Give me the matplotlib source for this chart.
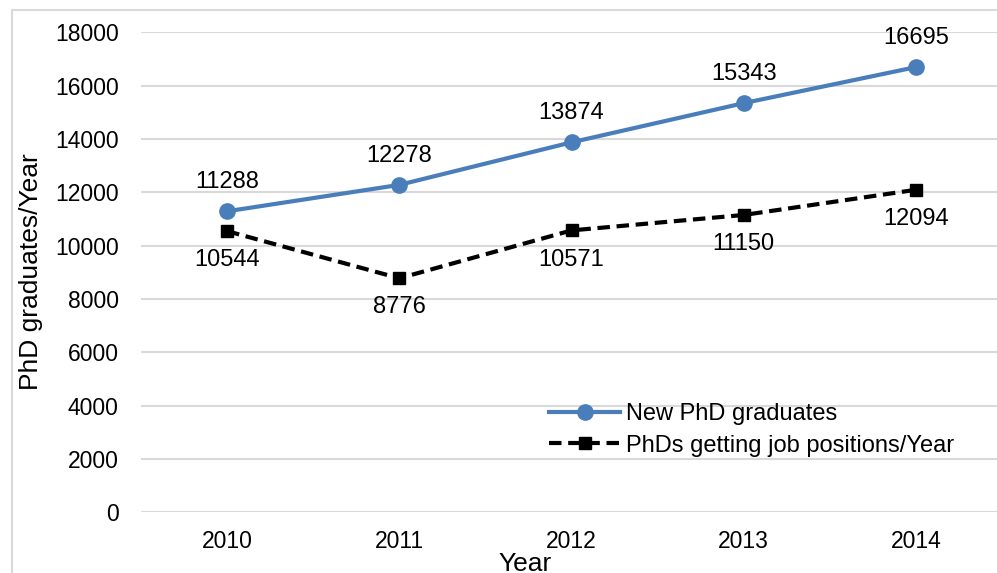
import matplotlib
matplotlib.use('Agg')
import matplotlib.pyplot as plt
from matplotlib.patches import Rectangle

years = ['2010', '2011', '2012', '2013', '2014']
new_phd = [11288, 12278, 13874, 15343, 16695]
phd_jobs = [10544, 8776, 10571, 11150, 12094]

plt.rcParams['font.family'] = ['Liberation Sans', 'DejaVu Sans']

fig = plt.figure(figsize=(9.97, 5.73), dpi=100)
ax = fig.add_axes([141 / 997, 60.7 / 573, 861 / 997, 480 / 573])

x = list(range(len(years)))
blue = '#4a7ebb'
ax.plot(x, new_phd, color=blue, lw=3, marker='o', ms=11, label='New PhD graduates', zorder=3)
ax.plot(x, phd_jobs, color='black', lw=3, ls=(0, (3, 1.6)), marker='s', ms=9,
        label='PhDs getting job positions/Year', zorder=3)

for xi, v in zip(x, new_phd):
    ax.annotate(str(v), (xi, v), xytext=(0, 21), textcoords='offset points',
                ha='center', va='center', fontsize=17)
for xi, v in zip(x, phd_jobs):
    ax.annotate(str(v), (xi, v), xytext=(0, -21), textcoords='offset points',
                ha='center', va='center', fontsize=17)

ax.set_xlim(-0.5, len(years) - 0.5)
ax.set_ylim(0, 18000)
ax.set_yticks(range(0, 18001, 2000))
ax.set_xticks(x)
ax.set_xticklabels(years)
ax.tick_params(axis='both', length=0, labelsize=16.5)
ax.tick_params(axis='y', pad=16)
ax.tick_params(axis='x', pad=13)
ax.grid(axis='y', color='#d9d9d9', lw=1.5)
ax.set_axisbelow(True)
for s in ax.spines.values():
    s.set_visible(False)

fig.text(31 / 997, 1 - 272 / 573, 'PhD graduates/Year', rotation=90, ha='center', va='center', fontsize=19)
fig.text(525 / 997, 1 - 564 / 573, 'Year', ha='center', va='center', fontsize=19)

leg = ax.legend(loc='upper left', bbox_to_anchor=(528 / 997, 1 - 382 / 573),
                bbox_transform=fig.transFigure, frameon=False, fontsize=17,
                handlelength=3.0, handletextpad=0.25, labelspacing=0.4)

fig.patches.append(Rectangle((12 / 997, -0.1), 1.2, 1 - 10 / 573 + 0.1,
                             transform=fig.transFigure, fill=False,
                             edgecolor='#d9d9d9', lw=1.5))

fig.savefig('out.png', dpi=100)
